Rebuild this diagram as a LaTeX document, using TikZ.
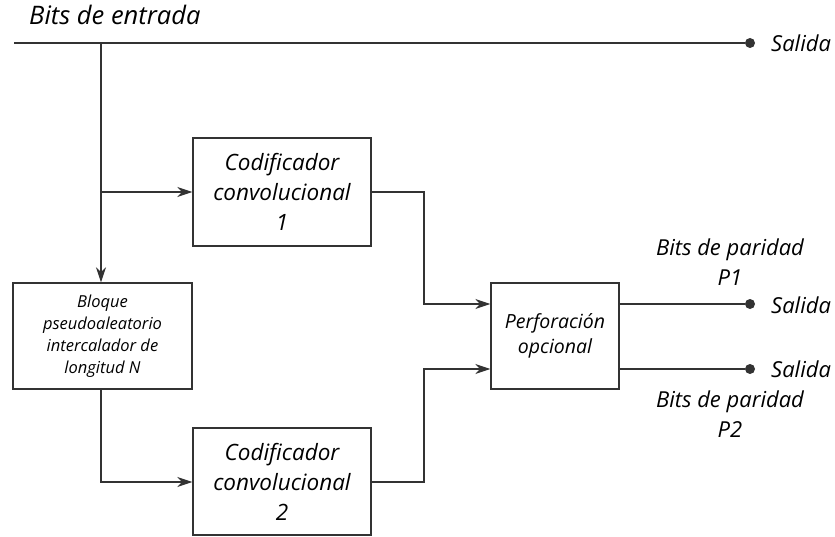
\documentclass[tikz,border=0pt]{standalone}
\usepackage{fontspec}
\setmainfont{Open Sans}
\usetikzlibrary{arrows.meta}
\definecolor{ink}{HTML}{333333}
\tikzset{
  blockbox/.style={draw=ink, line width=1.4pt, fill=white, align=center,
    inner sep=0pt, font=\itshape},
  wire/.style={draw=ink, line width=1.4pt},
  arrowwire/.style={wire, -{Stealth[length=15pt, width=10pt]}},
  portdot/.style={circle, fill=ink, inner sep=0pt, minimum size=10pt},
  lbl/.style={font=\itshape, text=black, inner sep=0pt, align=center},
}
\begin{document}
\begin{tikzpicture}[x=1pt, y=-1pt]
  \useasboundingbox (0,0) rectangle (835,537);

  % blocks
  \node[blockbox, minimum width=178pt, minimum height=108pt, font=\itshape\fontsize{22.5}{30}\selectfont]
    (enc1) at (282,192) {Codificador\\convolucional\\1};
  \node[blockbox, minimum width=178pt, minimum height=107pt, font=\itshape\fontsize{22.5}{30}\selectfont]
    (enc2) at (282,481.5) {Codificador\\convolucional\\2};
  \node[blockbox, minimum width=179pt, minimum height=106pt, font=\itshape\fontsize{16.5}{22}\selectfont]
    (ilv) at (102.5,336) {Bloque\\pseudoaleatorio\\intercalador de\\longitud N};
  \node[blockbox, minimum width=128pt, minimum height=106pt, font=\itshape\fontsize{19.5}{25}\selectfont]
    (punc) at (555,336) {Perforación\\opcional};

  % output terminals
  \node[portdot] (outS) at (750,43) {};
  \node[portdot] (outP1) at (750,304) {};
  \node[portdot] (outP2) at (750,369) {};

  % input bus and branches
  \coordinate (inL) at (14,43);
  \coordinate (tap) at (101,43);
  \coordinate (split) at (101,192);
  \draw[wire] (inL) -- (outS);
  \draw[arrowwire] (tap) -- (ilv.north -| tap);
  \draw[arrowwire] (split) -- (enc1.west);
  \draw[arrowwire] (ilv.south -| tap) -- (101,482) -- (enc2.west |- 0,482);

  % encoders into puncturing
  \draw[arrowwire] (enc1.east) -- (424,192) -- (424,304) -- (punc.west |- 0,304);
  \draw[arrowwire] (enc2.east |- 0,482) -- (424,482) -- (424,369) -- (punc.west |- 0,369);

  % puncturing outputs
  \draw[wire] (punc.east |- outP1) -- (outP1);
  \draw[wire] (punc.east |- outP2) -- (outP2);

  % labels
  \node[lbl, anchor=base west, font=\itshape\fontsize{25.5}{28}\selectfont] (title) at (29,25) {Bits de entrada};
  \node[lbl, anchor=west, font=\itshape\fontsize{22}{24}\selectfont] (sS) at (771,43) {Salida};
  \node[lbl, anchor=west, font=\itshape\fontsize{22}{24}\selectfont] (s1) at (771,305) {Salida};
  \node[lbl, anchor=west, font=\itshape\fontsize{22}{24}\selectfont] (s2) at (771,369) {Salida};
  \node[lbl, font=\itshape\fontsize{22}{30}\selectfont] (p1) at (730,262) {Bits de paridad\\P1};
  \node[lbl, font=\itshape\fontsize{22}{30}\selectfont] (p2) at (730,414) {Bits de paridad\\P2};
\end{tikzpicture}
\end{document}
